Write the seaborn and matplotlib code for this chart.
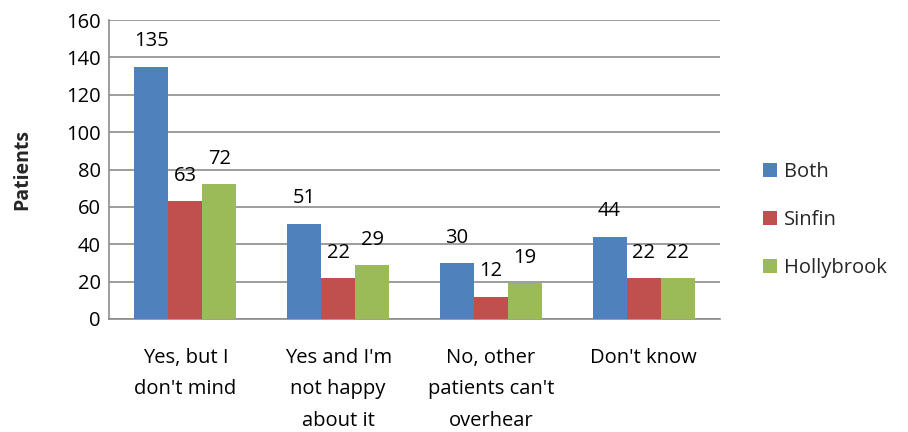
import pandas as pd
import matplotlib
matplotlib.use("Agg")
import matplotlib.pyplot as plt
import seaborn as sns

categories = ["Yes, but I\ndon't mind", "Yes and I'm\nnot happy\nabout it",
              "No, other\npatients can't\noverhear", "Don't know"]
series = ["Both", "Sinfin", "Hollybrook"]
both = [135, 51, 30, 44]
sinfin = [63, 22, 12, 22]
hollybrook = [72, 29, 19, 22]
colors = ["#4F81BD", "#C0504D", "#9BBB59"]

df = pd.DataFrame({
    "answer": categories * 3,
    "site": [s for s in series for _ in categories],
    "patients": both + sinfin + hollybrook,
})

sns.set_style("white")
plt.rcParams["font.family"] = ["Open Sans", "DejaVu Sans"]

fig = plt.figure(figsize=(9.08, 4.32), dpi=100)
ax = fig.add_axes([109 / 908, 1 - 319 / 432, 611 / 908, 299 / 432])

sns.barplot(data=df, x="answer", y="patients", hue="site", order=categories,
            hue_order=series, palette=colors, width=0.668, saturation=1,
            edgecolor="none", linewidth=0, ax=ax, zorder=3)

for cont in ax.containers:
    ax.bar_label(cont, padding=11, fontsize=14.5, color="black")

ax.set_ylim(0, 160)
ax.set_yticks(range(0, 161, 20))
ax.yaxis.grid(True, color="#8C8C8C", linewidth=1.2, zorder=0)
ax.set_axisbelow(True)
for side in ["top", "right"]:
    ax.spines[side].set_visible(False)
for side in ["left", "bottom"]:
    ax.spines[side].set_color("#8C8C8C")
    ax.spines[side].set_linewidth(1.2)
ax.tick_params(axis="both", length=0, labelsize=14.5, colors="black")
ax.tick_params(axis="x", pad=21)
ax.tick_params(axis="y", pad=6)
for lbl in ax.get_xticklabels():
    lbl.set_linespacing(1.75)
ax.set_xlabel("")
ax.set_ylabel("Patients", fontsize=14, fontweight="bold", labelpad=24)

handles, labels = ax.get_legend_handles_labels()
ax.legend(handles, labels, loc="center left", bbox_to_anchor=(1.07, 0.331),
          frameon=False, fontsize=14.5, handlelength=0.72, handleheight=0.72,
          handletextpad=0.35, labelspacing=1.4, borderaxespad=0, borderpad=0)

fig.savefig("out.png", dpi=100)
